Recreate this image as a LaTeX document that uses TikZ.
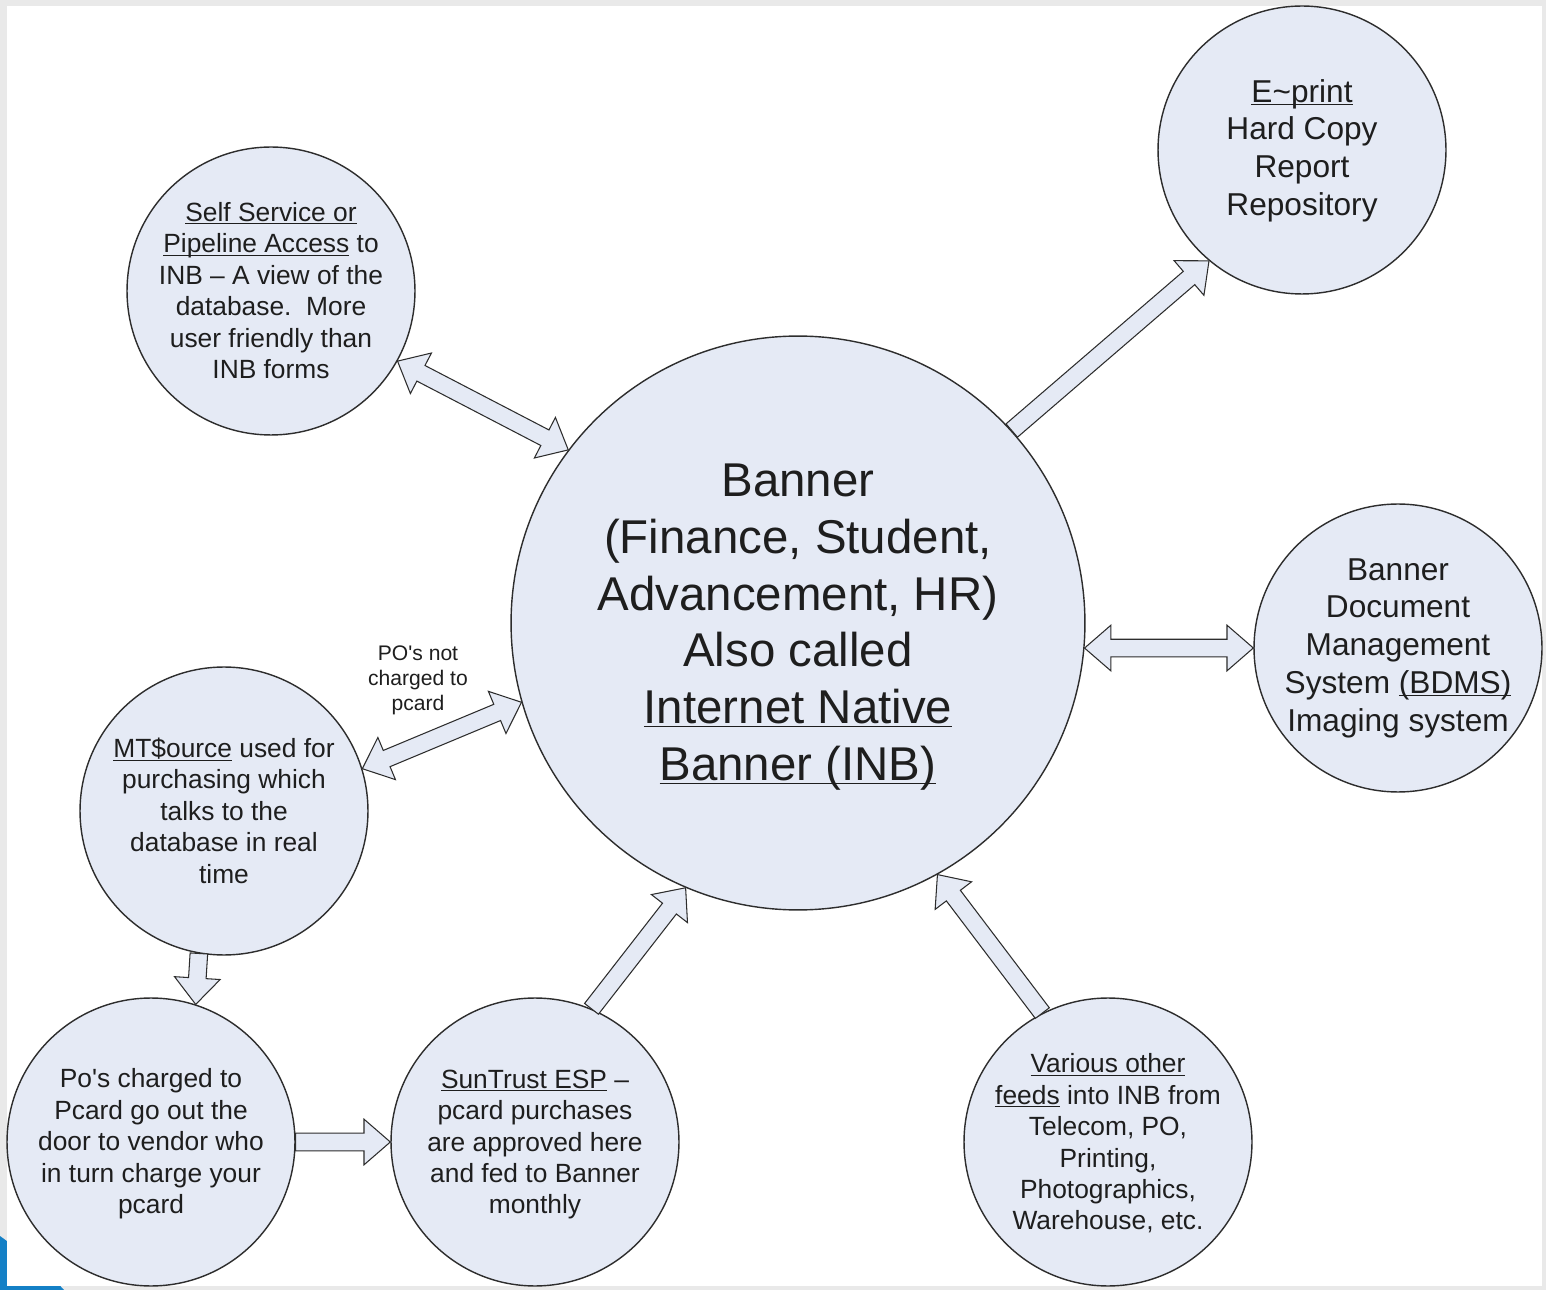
\documentclass[tikz,border=0pt]{standalone}
\usepackage{fontspec}
\setmainfont{Liberation Sans}
\usepackage{tikz}
\usetikzlibrary{calc}
\definecolor{bubble}{RGB}{229,234,245}
\definecolor{linegray}{RGB}{45,45,45}
\definecolor{textgray}{RGB}{30,30,30}
\definecolor{framegray}{RGB}{233,233,233}
\definecolor{cornerblue}{RGB}{20,128,198}
\newcommand{\ulin}[1]{\underline{\smash{#1}}}

\begin{document}
\begin{tikzpicture}[x=0.02cm, y=-0.02cm,
  main node/.style={circle, draw=linegray, line width=0.8pt, fill=bubble, inner sep=0pt, minimum size=5.76cm},
  big node/.style={main node, minimum size=11.48cm},
  small text/.style={align=center, text=textgray, inner sep=0pt, font=\fontsize{15}{17.9}\selectfont},
  mid text/.style={small text, font=\fontsize{18}{21.5}\selectfont},
  big text/.style={small text, font=\fontsize{27}{32.3}\selectfont},
  note/.style={small text, font=\fontsize{12}{14.2}\selectfont},
  one way/.style={draw=linegray, line width=0.6pt, fill=bubble, to path={
    ($(\tikztostart)!5pt!90:(\tikztotarget)$)
    -- ($ ($(\tikztotarget)!15pt!(\tikztostart)$) !5pt!-90:(\tikztostart) $)
    -- ($ ($(\tikztotarget)!15pt!(\tikztostart)$) !13pt!-90:(\tikztostart) $)
    -- (\tikztotarget)
    -- ($ ($(\tikztotarget)!15pt!(\tikztostart)$) !13pt!90:(\tikztostart) $)
    -- ($ ($(\tikztotarget)!15pt!(\tikztostart)$) !5pt!90:(\tikztostart) $)
    -- ($(\tikztostart)!5pt!-90:(\tikztotarget)$)
    -- cycle}},
  two way/.style={draw=linegray, line width=0.6pt, fill=bubble, to path={
    (\tikztostart)
    -- ($ ($(\tikztostart)!15pt!(\tikztotarget)$) !13pt!90:(\tikztotarget) $)
    -- ($ ($(\tikztostart)!15pt!(\tikztotarget)$) !5pt!90:(\tikztotarget) $)
    -- ($ ($(\tikztotarget)!15pt!(\tikztostart)$) !5pt!-90:(\tikztostart) $)
    -- ($ ($(\tikztotarget)!15pt!(\tikztostart)$) !13pt!-90:(\tikztostart) $)
    -- (\tikztotarget)
    -- ($ ($(\tikztotarget)!15pt!(\tikztostart)$) !13pt!90:(\tikztostart) $)
    -- ($ ($(\tikztotarget)!15pt!(\tikztostart)$) !5pt!90:(\tikztostart) $)
    -- ($ ($(\tikztostart)!15pt!(\tikztotarget)$) !5pt!-90:(\tikztotarget) $)
    -- ($ ($(\tikztostart)!15pt!(\tikztotarget)$) !13pt!-90:(\tikztotarget) $)
    -- cycle}}]

% frame
\fill[framegray] (0,0) rectangle (1546,1290);
\fill[cornerblue] (0,1236) .. controls (22,1252) and (46,1270) .. (64,1290) -- (0,1290) -- cycle;
\fill[white] (7,6) rectangle (1542,1286);

% circles
\node[big node] (banner) at (798,623) {};
\node[main node] (selfsvc) at (271,291) {};
\node[main node] (eprint) at (1302,150) {};
\node[main node] (bdms) at (1398,648) {};
\node[main node] (mtsource) at (224,811) {};
\node[main node] (pocharged) at (151,1142) {};
\node[main node] (suntrust) at (535,1142) {};
\node[main node] (feeds) at (1108,1142) {};

% texts
\node[big text] (banner-t) at (798,624) {Banner\\(Finance, Student,\\Advancement, HR)\\Also called\\\ulin{Internet Native}\\\ulin{Banner (INB)}};
\node[small text] (selfsvc-t) at (271,300) {\ulin{Self Service or}\\\ulin{Pipeline Access} to\\INB -- A view of the\\database.\ \ More\\user friendly than\\INB forms};
\node[mid text] (eprint-t) at (1302,162) {\ulin{E\textasciitilde print}\\Hard Copy\\Report\\Repository};
\node[mid text] (bdms-t) at (1398,648) {Banner\\Document\\Management\\System \ulin{(BDMS)}\\Imaging system};
\node[small text] (mtsource-t) at (224,811) {\ulin{MT\$ource} used for\\purchasing which\\talks to the\\database in real\\time};
\node[small text] (pocharged-t) at (151,1144) {Po\textquotesingle s charged to\\Pcard go out the\\door to vendor who\\in turn charge your\\pcard};
\node[small text] (suntrust-t) at (535,1150) {\ulin{SunTrust ESP} --\\pcard purchases\\are approved here\\and fed to Banner\\monthly};
\node[small text] (feeds-t) at (1108,1153) {\ulin{Various other}\\\ulin{feeds} into INB from\\Telecom, PO,\\Printing,\\Photographics,\\Warehouse, etc.};
\node[note] (ponote) at (418,680) {PO\textquotesingle s not\\charged to\\pcard};

% block arrows
\draw[two way] (selfsvc.-29) to (banner.143);
\draw[one way] (banner.42) to (eprint.230);
\draw[two way] (banner.-5) to (bdms.180);
\draw[two way] (mtsource.17) to (banner.196);
\draw[one way] (mtsource.260) to (pocharged.72);
\draw[one way] (pocharged.0) to (suntrust.180);
\draw[one way] (suntrust.67) to (banner.247);
\draw[one way] (feeds.117) to (banner.-61);
\end{tikzpicture}
\end{document}
